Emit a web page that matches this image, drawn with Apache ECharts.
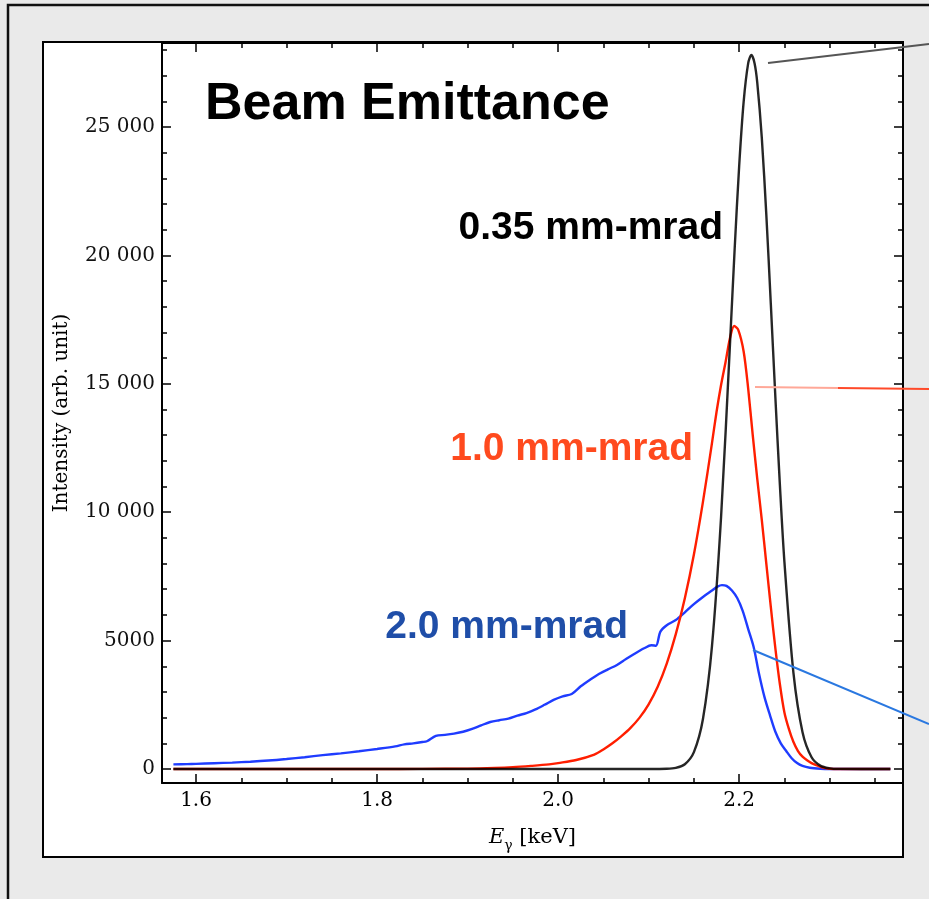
<!DOCTYPE html>
<html><head><meta charset="utf-8">
<script src="https://cdn.jsdelivr.net/npm/echarts@6/dist/echarts.min.js"></script>
<style>html,body{margin:0;padding:0;background:#eaeaea;}#c{width:929px;height:899px;}</style>
</head><body><div id="c"></div>
<script>
// ---- axis ranges and ticks ----
const xMin = 1.5624, xMax = 2.381;
const yMin = -545, yMax = 28270;
const xMajorTicks = [1.6, 1.8, 2.0, 2.2];
const xTickLabels = ['1.6', '1.8', '2.0', '2.2'];
const xMinorTicks = [1.65, 1.7, 1.75, 1.85, 1.9, 1.95, 2.05, 2.1, 2.15, 2.25, 2.3, 2.35];
const yMajorTicks = [0, 5000, 10000, 15000, 20000, 25000];
const yTickLabels = ['0', '5000', '10 000', '15 000', '20 000', '25 000'];
const yMinorTicks = [1000, 2000, 3000, 4000, 6000, 7000, 8000, 9000, 11000, 12000, 13000, 14000,
  16000, 17000, 18000, 19000, 21000, 22000, 23000, 24000, 26000, 27000, 28000];

// ---- 0.35 mm-mrad (black) ----
const blackE = [1.575, 1.8, 2.0, 2.1, 2.12, 2.13, 2.14, 2.15, 2.16, 2.17, 2.18, 2.19, 2.195, 2.2, 2.205, 2.21, 2.2135, 2.217, 2.22, 2.225, 2.23, 2.235, 2.24, 2.245, 2.25, 2.26, 2.27, 2.28, 2.29, 2.30, 2.31, 2.367];
const blackI = [0, 0, 0, 0, 8, 43, 184, 657, 1946, 4793, 9803, 16643, 20230, 23472, 25995, 27485, 27800, 27485, 26730, 24586, 21587, 18090, 14478, 11060, 8065, 3731, 1434, 457, 121, 27, 5, 0];

// ---- 1.0 mm-mrad (red) ----
const redE = [1.575, 1.80, 1.85, 1.90, 1.93, 1.95, 1.97, 1.99, 2.00, 2.02, 2.04, 2.05, 2.06, 2.07, 2.08, 2.09, 2.10, 2.11, 2.12, 2.13, 2.14, 2.15, 2.16, 2.17, 2.175, 2.18, 2.185, 2.19, 2.1945, 2.199, 2.205, 2.21, 2.215, 2.22, 2.225, 2.23, 2.235, 2.24, 2.245, 2.25, 2.255, 2.26, 2.265, 2.27, 2.275, 2.28, 2.285, 2.29, 2.295, 2.30, 2.31, 2.367];
const redI = [0, 0, 5, 15, 40, 70, 120, 180, 230, 350, 560, 760, 1000, 1280, 1600, 2000, 2520, 3200, 4100, 5250, 6650, 8350, 10400, 12700, 13900, 14950, 15850, 16800, 17250, 17100, 16250, 14800, 13000, 11300, 9700, 8000, 6300, 4700, 3300, 2200, 1550, 1050, 700, 480, 340, 230, 150, 80, 35, 10, 0, 0];

// ---- 2.0 mm-mrad (blue) ----
const blueE = [1.575, 1.59, 1.60, 1.62, 1.64, 1.66, 1.68, 1.70, 1.72, 1.74, 1.76, 1.78, 1.80, 1.82, 1.83, 1.84, 1.85, 1.855, 1.865, 1.875, 1.885, 1.895, 1.905, 1.915, 1.925, 1.935, 1.945, 1.955, 1.965, 1.975, 1.985, 1.995, 2.005, 2.015, 2.025, 2.035, 2.045, 2.055, 2.065, 2.075, 2.085, 2.095, 2.103, 2.108, 2.113, 2.12, 2.13, 2.14, 2.15, 2.16, 2.17, 2.176, 2.181, 2.186, 2.192, 2.198, 2.204, 2.21, 2.216, 2.222, 2.228, 2.234, 2.24, 2.246, 2.252, 2.258, 2.264, 2.27, 2.278, 2.29, 2.30, 2.367];
const blueI = [180, 190, 200, 225, 250, 285, 330, 390, 460, 540, 610, 690, 780, 880, 960, 1000, 1050, 1080, 1290, 1330, 1380, 1450, 1560, 1700, 1830, 1900, 1960, 2080, 2180, 2320, 2500, 2690, 2830, 2920, 3220, 3470, 3700, 3880, 4050, 4280, 4500, 4700, 4820, 4800, 5350, 5600, 5800, 6100, 6420, 6700, 6950, 7100, 7160, 7130, 6950, 6650, 6150, 5450, 4750, 3700, 2800, 2100, 1450, 1000, 700, 420, 230, 120, 50, 10, 0, 0];

const zip = (a, b) => a.map((v, i) => [v, b[i]]);
const pick = (vals, labels) => v => {
  const i = vals.findIndex(t => Math.abs(t - v) < 1e-9);
  return i >= 0 ? labels[i] : '';
};

const chart = echarts.init(document.getElementById('c'), null, {renderer: 'canvas'});
const serif = 'DejaVu Serif';
const sans = 'Liberation Sans';

function xAx(pos, ticks, len, withLine, withLabel) {
  return {
    type: 'value', position: pos, min: xMin, max: xMax, gridIndex: 0, offset: 0,
    axisLine: {show: withLine, onZero: false, lineStyle: {color: '#000', width: 2}},
    axisTick: {show: true, inside: true, length: len, lineStyle: {color: '#000', width: 1.5}, customValues: ticks},
    axisLabel: withLabel ? {show: true, customValues: xMajorTicks, formatter: pick(xMajorTicks, xTickLabels),
      fontFamily: serif, fontSize: 20, color: '#000', margin: 8} : {show: false},
    splitLine: {show: false}
  };
}
function yAx(pos, ticks, len, withLine, withLabel) {
  return {
    type: 'value', position: pos, min: yMin, max: yMax, gridIndex: 0, offset: 0,
    axisLine: {show: withLine, onZero: false, lineStyle: {color: '#000', width: 2}},
    axisTick: {show: true, inside: true, length: len, lineStyle: {color: '#000', width: 1.5}, customValues: ticks},
    axisLabel: withLabel ? {show: true, customValues: yMajorTicks, formatter: pick(yMajorTicks, yTickLabels),
      fontFamily: serif, fontSize: 20, color: '#111', margin: 7} : {show: false},
    splitLine: {show: false}
  };
}

const xAxes = [xAx('bottom', xMajorTicks, 9, true, true), xAx('bottom', xMinorTicks, 5, false, false),
  xAx('top', xMajorTicks, 9, true, false), xAx('top', xMinorTicks, 5, false, false)];
xAxes[0].name = '{i|E}{s|γ}{n| [keV]}';
xAxes[0].nameLocation = 'middle';
xAxes[0].nameGap = 40;
xAxes[0].nameTextStyle = {
  fontFamily: serif, fontSize: 21, color: '#000',
  rich: {
    i: {fontFamily: serif, fontSize: 21, fontStyle: 'italic', color: '#000', lineHeight: 30, verticalAlign: 'middle'},
    s: {fontFamily: serif, fontSize: 14, color: '#000', lineHeight: 14, verticalAlign: 'bottom'},
    n: {fontFamily: serif, fontSize: 21, color: '#000', lineHeight: 30, verticalAlign: 'middle'}
  }
};
const yAxes = [yAx('left', yMajorTicks, 9, true, true), yAx('left', yMinorTicks, 5, false, false),
  yAx('right', yMajorTicks, 9, true, false), yAx('right', yMinorTicks, 5, false, false)];
yAxes[0].name = 'Intensity (arb. unit)';
yAxes[0].nameLocation = 'middle';
yAxes[0].nameGap = 90;
yAxes[0].nameTextStyle = {fontFamily: serif, fontSize: 20, color: '#000'};

function lineSeries(name, e, v, color, z, opacity) {
  return {
    name, type: 'line', xAxisIndex: 0, yAxisIndex: 0, data: zip(e, v),
    showSymbol: false, symbol: 'none', smooth: 0.3, z,
    lineStyle: {color, width: 2.4, opacity}
  };
}

const txt = (text, x, y, size, color, align) => ({
  type: 'text', z: 50, silent: true,
  style: {text, x, y, fontFamily: sans, fontWeight: 'bold', fontSize: size, fill: color, align, verticalAlign: 'middle'}
});
const seg = (x1, y1, x2, y2, color) => ({
  type: 'line', z: 40, silent: true, shape: {x1, y1, x2, y2}, style: {stroke: color, lineWidth: 2}
});

chart.setOption({
  backgroundColor: '#eaeaea',
  animation: false,
  grid: {left: 162, right: 26, top: 43, bottom: 116, containLabel: false},
  xAxis: xAxes,
  yAxis: yAxes,
  series: [
    lineSeries('2.0 mm-mrad', blueE, blueI, '#1f3cff', 3, 1),
    lineSeries('1.0 mm-mrad', redE, redI, '#ff1e00', 4, 1),
    lineSeries('0.35 mm-mrad', blackE, blackI, '#000000', 5, 0.85)
  ],
  graphic: [
    {type: 'rect', z: -10, silent: true, shape: {x: 43, y: 42, width: 860, height: 815},
      style: {fill: '#ffffff', stroke: '#000', lineWidth: 2}},
    {type: 'polyline', z: -9, silent: true, shape: {points: [[8, 899], [8, 5], [929, 5]]},
      style: {stroke: '#111', lineWidth: 2.5, fill: null}},
    seg(768, 63, 929, 44, '#555'),
    seg(755, 387, 838, 388, '#ffa898'),
    seg(838, 388, 929, 389, '#ff4a2a'),
    seg(753, 650, 929, 724, '#2a78e0'),
    txt('Beam Emittance', 205, 105, 52, '#000', 'left'),
    txt('0.35 mm-mrad', 723, 228, 39, '#000', 'right'),
    txt('1.0 mm-mrad', 693, 449, 39, '#ff4a1e', 'right'),
    txt('2.0 mm-mrad', 628, 627, 39, '#1f4ea8', 'right')
  ]
});
</script></body></html>
